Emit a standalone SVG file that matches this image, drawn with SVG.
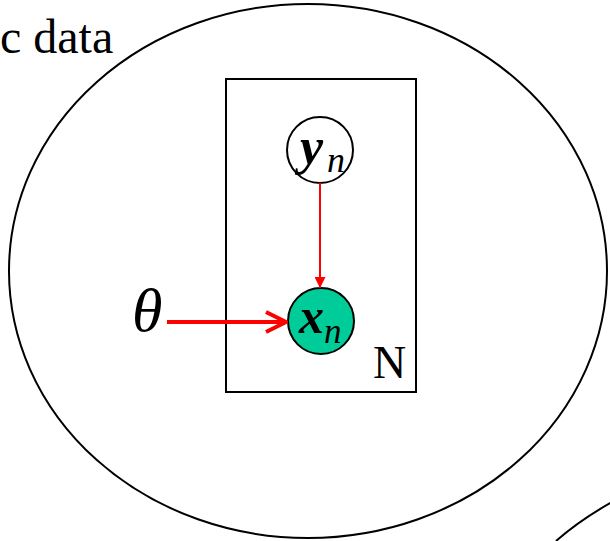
<svg xmlns="http://www.w3.org/2000/svg" width="610" height="541" viewBox="0 0 610 541">
<defs>
<style>
.outline{fill:none;stroke:#000;stroke-width:2}
.t{font-family:"Liberation Serif","Times New Roman",serif;fill:#000}
.edge{stroke:#ff0000;fill:none}
</style>
<marker id="ah" viewBox="0 0 10 10" refX="10" refY="5" markerWidth="11" markerHeight="11" markerUnits="userSpaceOnUse" orient="auto">
<path d="M0,0 L10,5 L0,10 z" fill="#ff0000"/>
</marker>
<marker id="ah2" viewBox="0 0 12 12" refX="11" refY="6" markerWidth="6" markerHeight="6" orient="auto">
<path d="M1,1 L11,6 L1,11" fill="none" stroke="#ff0000" stroke-width="2"/>
</marker>
</defs>
<rect width="610" height="541" fill="#fff"/>
<g id="generic-data">
<ellipse class="outline" cx="308" cy="271" rx="299" ry="267"/>
<text class="t" x="0" y="53" font-size="48">c data</text>
</g>
<g id="other-ellipse">
<path class="outline" d="M556,541 Q580,520 612,502"/>
</g>
<g id="plate">
<rect class="outline" x="226" y="79" width="190" height="313"/>
<text class="t" x="373" y="378" font-size="46">N</text>
</g>
<g id="node-y">
<circle cx="320" cy="150" r="33" fill="#fff" stroke="#000" stroke-width="2"/>
<text class="t" x="300" y="164" font-size="52" font-weight="bold" font-style="italic">y</text>
<text class="t" x="327" y="172" font-size="36" font-style="italic">n</text>
</g>
<g id="node-x">
<circle cx="321" cy="321" r="33" fill="#00cc99" stroke="#000" stroke-width="2"/>
<text class="t" x="299" y="333" font-size="50" font-weight="bold" font-style="italic">x</text>
<text class="t" x="324" y="343" font-size="35" font-style="italic">n</text>
</g>
<g id="node-theta">
<text class="t" x="132" y="331" font-size="62" font-style="italic">θ</text>
</g>
<g id="connectors">
<line class="edge" x1="320" y1="183" x2="320" y2="288" stroke-width="2" marker-end="url(#ah)"/>
<line class="edge" x1="167" y1="322" x2="286" y2="322" stroke-width="4" marker-end="url(#ah2)"/>
</g>
</svg>
